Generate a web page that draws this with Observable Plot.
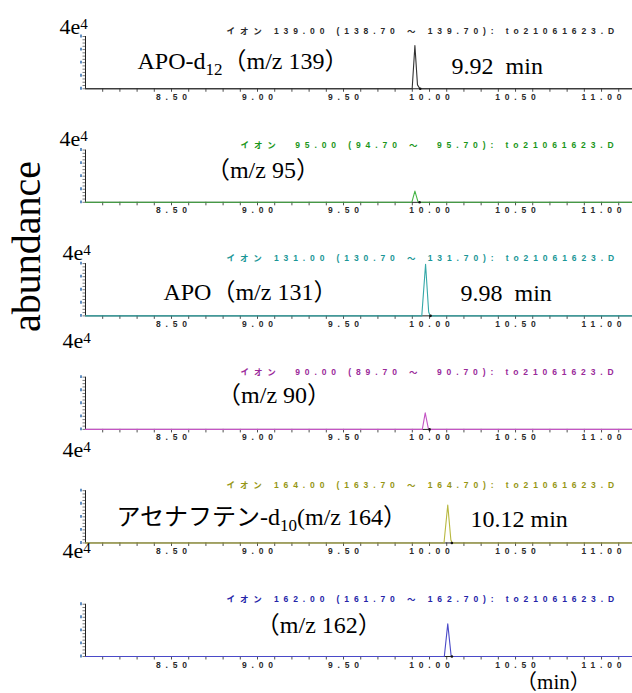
<!DOCTYPE html>
<html><head><meta charset="utf-8">
<script src="https://cdn.jsdelivr.net/npm/d3@7"></script>
<script src="https://cdn.jsdelivr.net/npm/@observablehq/plot@0.6"></script>
<style>
body{margin:0;background:#fff;}
#chart svg{display:block;overflow:visible;background:#fff}
</style></head><body><div id="chart"></div>
<script>
// ---------- data ----------
const panels = [0, 1, 2, 3, 4, 5];
const ionHeaders = [
  "イオン 139.00 (138.70 〜 139.70): to21061623.D",
  "イオン  95.00 (94.70 〜  95.70): to21061623.D",
  "イオン 131.00 (130.70 〜 131.70): to21061623.D",
  "イオン  90.00 (89.70 〜  90.70): to21061623.D",
  "イオン 164.00 (163.70 〜 164.70): to21061623.D",
  "イオン 162.00 (161.70 〜 162.70): to21061623.D"
];
const xDomain = [8.0, 11.18];
const yDomain = [0, 40000];
const labelTicks = [8.5, 9.0, 9.5, 10.0, 10.5, 11.0];
const minorTicks = d3.range(81, 112).map(d => d / 10);
const yMinorTicks = d3.range(0, 40001, 2500);
const yMajorTicks = [0, 10000, 20000, 30000, 40000];
const scaleLabel = "4e^{4}";

const traceTimes = [
  [8.00, 9.899, 9.915, 9.930, 9.944, 11.18],
  [8.00, 9.897, 9.915, 9.934, 11.18],
  [8.00, 9.955, 9.977, 9.995, 10.004, 11.18],
  [8.00, 9.958, 9.975, 9.994, 11.18],
  [8.00, 10.084, 10.106, 10.124, 10.131, 11.18],
  [8.00, 10.086, 10.106, 10.126, 11.18]
];
const traceAbund = [
  [0, 0, 33000, 3000, 0, 0],
  [0, 0, 8600, 0, 0],
  [0, 0, 39500, 3000, 0, 0],
  [0, 0, 12700, 0, 0],
  [0, 0, 29000, 2500, 0, 0],
  [0, 0, 25000, 0, 0]
];
const markerTimes = [9.946, 9.942, 10.006, 10.0, 10.13, 10.13];

const labelTexts = [
  ["APO-d_{12}（m/z 139）", "9.92  min"],
  ["（m/z 95）"],
  ["APO（m/z 131）", "9.98  min"],
  ["（m/z 90）"],
  ["アセナフテン-d_{10}(m/z 164）", "10.12 min"],
  ["（m/z 162）"]
];
const xUnitLabel = "（min）";
const yUnitLabel = "abundance";

// ---------- layout / style ----------
const labelPos = [
  [[8.302, 20900], [10.128, 17000]],
  [[8.70, 24700]],
  [[8.453, 18400], [10.18, 17600]],
  [[8.765, 26200]],
  [[8.18, 19300], [10.238, 17800]],
  [[8.99, 23900]]
];
const headerDx = [141, 155, 141, 155, 141, 141];
const eDx = [-26, -26, -23, -23, -23, -23];
const eDy = [-3, -4, -4, -29, -34, -46];
const traceColors = ["#333333", "#45b445", "#35a8a8", "#c455c4", "#b8b840", "#4a4ac8"];
const headerColors = ["#2a2a2a", "#1a961a", "#1a9696", "#9a2a9a", "#969614", "#2424a8"];
const serif = "'Liberation Serif', 'Times New Roman', 'Noto Sans CJK JP', serif";
const sans = "'Liberation Sans', Arial, 'Noto Sans CJK JP', sans-serif";

const marks = [];
// axes
marks.push(Plot.axisY({ticks: yMinorTicks, tickSize: 2.5, tickFormat: () => "", label: null, stroke: "#222", strokeWidth: 0.6, facetAnchor: null}));
marks.push(Plot.ruleX([xDomain[0]], {stroke: "#222", strokeWidth: 1}));
marks.push(Plot.ruleX(yMajorTicks, {x: () => xDomain[0], y1: d => d - 1100, y2: d => d + 1100, dx: -4.5, stroke: "#2060a8", strokeWidth: 1.4}));
marks.push(Plot.ruleY([0], {stroke: "#222", strokeWidth: 1}));
marks.push(Plot.axisX({ticks: minorTicks, tickSize: 3.5, tickFormat: () => "", label: null, facetAnchor: null, stroke: "#222", strokeWidth: 0.8}));
marks.push(Plot.axisX({ticks: labelTicks, tickSize: 0, tickPadding: 5, tickFormat: d => d.toFixed(2), label: null, facetAnchor: null, fontSize: 8.5, fontWeight: "bold", color: "#2a2a2a", dx: 2.4, fontFamily: sans}));

panels.forEach(i => {
  const pts = traceTimes[i].map((t, j) => ({panel: i, t, a: traceAbund[i][j]}));
  marks.push(Plot.line(pts, {x: "t", y: "a", fy: "panel", stroke: traceColors[i], strokeWidth: 1.1}));
  marks.push(Plot.dot([{panel: i, t: markerTimes[i]}], {x: "t", y: () => 0, fy: "panel", r: 1.3, fill: "#111", stroke: null}));
  marks.push(Plot.text([{panel: i, s: ionHeaders[i]}], {text: "s", fy: "panel", frameAnchor: "top-left", dx: headerDx[i], dy: -5, textAnchor: "start", lineAnchor: "middle", fontSize: 8.5, fontWeight: "bold", fill: headerColors[i], fontFamily: sans}));
  marks.push(Plot.text([{panel: i, s: scaleLabel}], {text: "s", fy: "panel", frameAnchor: "top-left", dx: eDx[i], dy: eDy[i], textAnchor: "start", lineAnchor: "bottom", fontSize: 22, fontFamily: serif, fill: "#000"}));
  labelTexts[i].forEach((s, k) => {
    marks.push(Plot.text([{panel: i, s, t: labelPos[i][k][0], a: labelPos[i][k][1]}], {x: "t", y: "a", text: "s", fy: "panel", textAnchor: "start", lineAnchor: "middle", fontSize: 24, fontFamily: serif, fill: "#000"}));
  });
});
marks.push(Plot.text([{panel: 2, s: yUnitLabel}], {text: "s", fy: "panel", frameAnchor: "top-left", dx: -58, dy: -17, rotate: -90, fontSize: 40, fontFamily: serif, textAnchor: "middle", lineAnchor: "middle", fill: "#000"}));
marks.push(Plot.text([{panel: 5, s: xUnitLabel, t: 10.72}], {x: "t", text: "s", fy: "panel", frameAnchor: "bottom", dy: 26, fontSize: 21, fontFamily: serif, textAnchor: "middle", lineAnchor: "middle", fill: "#000"}));

const svg = Plot.plot({
  width: 632, height: 693,
  marginLeft: 85, marginRight: 0, marginTop: 36, marginBottom: 37,
  x: {domain: xDomain},
  y: {domain: yDomain},
  fy: {domain: panels, axis: null, paddingInner: 0.5396, paddingOuter: 0, round: false},
  style: {background: "#fff", overflow: "visible"},
  marks
});
document.getElementById("chart").append(svg);

// rich text: sub/superscripts, letter spacing
function richify(el) {
  const s = el.textContent;
  if (!/[_^]\{/.test(s)) return;
  const fs = parseFloat(getComputedStyle(el).fontSize) || 20;
  const small = Math.round(fs * 0.7);
  el.textContent = "";
  let shift = 0;
  const add = (str, kind) => {
    const t = document.createElementNS("http://www.w3.org/2000/svg", "tspan");
    t.textContent = str;
    const target = kind === "_" ? 6 : kind === "^" ? -5 : 0;
    if (target !== shift) { t.setAttribute("dy", target - shift); shift = target; }
    if (kind) t.setAttribute("font-size", small);
    el.appendChild(t);
  };
  const re = /([_^])\{([^}]*)\}/g;
  let last = 0, m;
  while ((m = re.exec(s))) {
    if (m.index > last) add(s.slice(last, m.index), null);
    add(m[2], m[1]);
    last = re.lastIndex;
  }
  if (last < s.length) add(s.slice(last), null);
}
svg.querySelectorAll("text").forEach(el => {
  const s = el.textContent;
  if (s.startsWith("イオン")) { el.style.whiteSpace = "pre"; el.style.letterSpacing = "4.9px"; }
  if (/ {2}/.test(s)) el.style.whiteSpace = "pre";
  richify(el);
});
svg.querySelectorAll('g[aria-label="x-axis tick label"] text').forEach(el => el.style.letterSpacing = "4.8px");
</script></body></html>
